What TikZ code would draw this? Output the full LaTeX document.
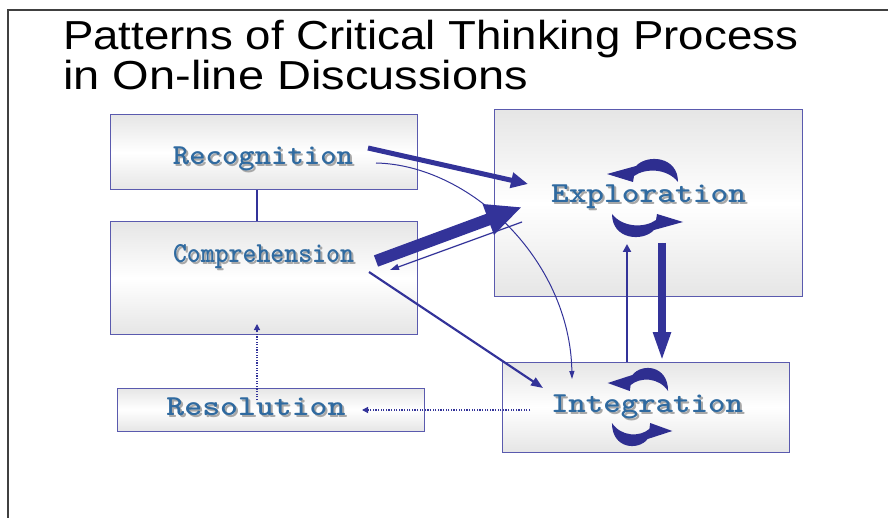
\documentclass[tikz,border=0pt]{standalone}
\usepackage{fontspec}
\newfontfamily\titlefont{Liberation Sans}
\usetikzlibrary{arrows.meta}
\definecolor{arrowblue}{HTML}{333399}
\definecolor{cycblue}{HTML}{2E2E90}
\definecolor{boxline}{HTML}{5A5AAE}
\definecolor{lblblue}{HTML}{2F6AA0}
\definecolor{lblshadow}{HTML}{A8A8A8}
\definecolor{framegray}{HTML}{404040}
\tikzset{
  box/.style={rectangle, draw=boxline, line width=1pt, inner sep=0pt,
    top color=black!10, bottom color=black!10, middle color=white},
  lblsh/.style={anchor=base, inner sep=0pt, text=lblshadow, font=\ttfamily\bfseries\fontsize{29}{29}\selectfont},
  lblmain/.style={anchor=base, inner sep=0pt, text=lblblue, font=\ttfamily\bfseries\fontsize{29}{29}\selectfont},
  conn/.style={draw=arrowblue, fill=arrowblue},
  dotconn/.style={draw=arrowblue, line width=1.2pt, dash pattern=on 1.3pt off 1.3pt},
  cyc/.pic={
    \fill[cycblue] (33,-16) .. controls (33,-42) and (2,-44) .. (-9,-32)
      -- (-38,-24) -- (-12,-16) -- (-11,-22)
      .. controls (0,-30) and (22,-30) .. (33,-16) -- cycle;
    \fill[cycblue, rotate=180] (33,-16) .. controls (33,-42) and (2,-44) .. (-9,-32)
      -- (-38,-24) -- (-12,-16) -- (-11,-22)
      .. controls (0,-30) and (22,-30) .. (33,-16) -- cycle;
  }
}
\newcommand\shlabel[5]{%
  \node[lblsh] (#1s) at (#2+2,#3+2) {\scalebox{#4}[1]{#5}};
  \node[lblmain] (#1) at (#2,#3) {\scalebox{#4}[1]{#5}};
}
\begin{document}
\begin{tikzpicture}[x=1pt, y=-1pt]
\useasboundingbox (0,0) rectangle (888,518);
% frame
\draw[framegray, line width=1.5pt] (8,518) -- (8,10) -- (888,10);
% title
\node[anchor=base west, inner sep=0pt, font=\titlefont\fontsize{40.5}{40.5}\selectfont] (title1) at (63,50)
  {\scalebox{1.126}[1]{Patterns of Critical Thinking Process}};
\node[anchor=base west, inner sep=0pt, font=\titlefont\fontsize{40.5}{40.5}\selectfont] (title2) at (63,90)
  {\scalebox{1.16}[1]{in On-line Discussions}};
% boxes
\node[box, minimum width=307pt, minimum height=75pt] (rec) at (263.5,152.5) {};
\node[box, minimum width=307pt, minimum height=112pt] (comp) at (263.5,278) {};
\node[box, minimum width=308pt, minimum height=187pt] (exp) at (648,203.5) {};
\node[box, minimum width=287pt, minimum height=90pt] (int) at (645.5,407) {};
\node[box, minimum width=307pt, minimum height=43pt] (res) at (270.5,409.5) {};
% cycles
\pic (expcyc) at (645,198) {cyc};
\pic[xscale=0.85] (intcyc) at (640,407) {cyc};
% labels
\shlabel{recT}{263}{165}{1.075}{Recognition}
\shlabel{compT}{263.5}{263}{0.914}{Comprehension}
\shlabel{expT}{648.5}{203}{1.164}{Exploration}
\shlabel{intT}{647}{412}{1.146}{Integration}
\shlabel{resT}{256}{415}{1.176}{Resolution}
% connector endpoints
\coordinate (a1s) at (368,148); \coordinate (a1e) at (528,184);
\coordinate (a2s) at (376,261); \coordinate (a2e) at (522,207);
\coordinate (a3s) at (522,222); \coordinate (a3e) at (390,270);
\coordinate (a4s) at (376,163); \coordinate (a4e) at (572,379);
\coordinate (a5s) at (369,272); \coordinate (a5e) at (543,388);
\coordinate (a6s) at (627,362); \coordinate (a6e) at (627,244);
\coordinate (a7s) at (662,243); \coordinate (a7e) at (662,362);
\coordinate (a8s) at (530,410); \coordinate (a8e) at (362,410);
\coordinate (a9s) at (257,400); \coordinate (a9e) at (257,324);
% connectors
\draw[arrowblue, line width=2pt] (rec.south -| a9s) -- (comp.north -| a9s);
\draw[conn, line width=5pt, -{Triangle[length=17pt,width=15pt]}] (a1s) -- (a1e);
\draw[conn, line width=12pt, -{Triangle[length=36pt,width=30pt]}] (a2s) -- (a2e);
\draw[conn, line width=1.2pt, -{Triangle[length=9pt,width=6pt]}] (a3s) -- (a3e);
\draw[arrowblue, line width=1pt, -{Triangle[length=8pt,width=5pt]}] (a4s) .. controls (470,165) and (570,260) .. (a4e);
\draw[conn, line width=2.2pt, -{Triangle[length=12pt,width=9pt]}] (a5s) -- (a5e);
\draw[conn, line width=2.5pt, -{Triangle[length=8pt,width=8pt]}] (a6s) -- (a6e);
\draw[conn, line width=8pt, -{Triangle[length=30pt,width=16pt]}] (a7s) -- (a7e);
\draw[dotconn, -{Triangle[length=6pt,width=6pt]}] (a8s) -- (a8e);
\draw[dotconn, -{Triangle[length=6pt,width=6pt]}] (a9s) -- (a9e);
\end{tikzpicture}
\end{document}
